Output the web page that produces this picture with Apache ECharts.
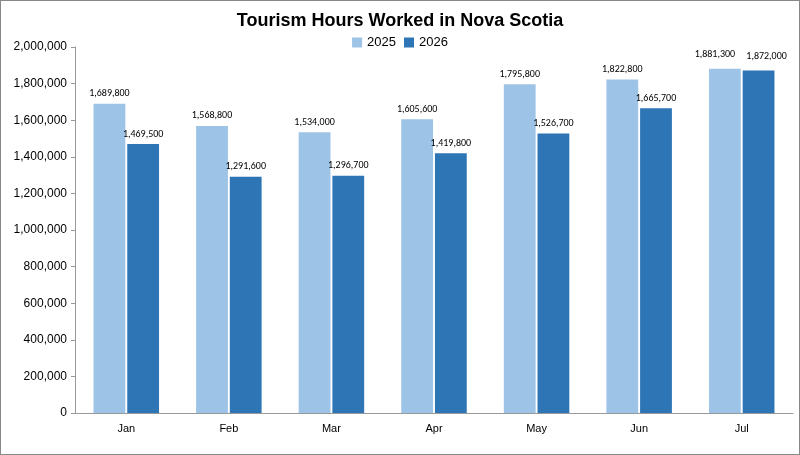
<!DOCTYPE html>
<html><head><meta charset="utf-8">
<script src="https://cdn.jsdelivr.net/npm/echarts@6/dist/echarts.min.js"></script>
<style>html,body{margin:0;padding:0}#c{width:798px;height:453px;border:1px solid #888}</style>
</head><body><div id="c"></div>
<script>
const categories = ["Jan","Feb","Mar","Apr","May","Jun","Jul"];
const s2025 = [1689800,1568800,1534000,1605600,1795800,1822800,1881300];
const s2026 = [1469500,1291600,1296700,1419800,1526700,1665700,1872000];
const chart = echarts.init(document.getElementById('c'));
const fmt = v => v.toLocaleString('en-US');
const lbl = {show:true,position:'top',fontSize:10,color:'#000',fontFamily:'Calibri, Carlito, Liberation Sans, sans-serif',formatter:p=>fmt(p.value)};
chart.setOption({
  animation:false,
  title:{text:'Tourism Hours Worked in Nova Scotia',left:'center',top:6,textStyle:{fontSize:18,fontWeight:'bold',color:'#000',fontFamily:'Liberation Sans, sans-serif'}},
  legend:{top:30,left:'center',itemWidth:10,itemHeight:10,itemGap:8,icon:'rect',textStyle:{fontSize:13,color:'#000'},data:['2025','2026']},
  grid:{left:74,right:6,top:46,bottom:41},
  xAxis:{type:'category',data:categories,axisTick:{show:false},axisLine:{lineStyle:{color:'#999'}},axisLabel:{color:'#000',fontSize:11,margin:10}},
  yAxis:{type:'value',min:0,max:2000000,interval:200000,splitLine:{show:false},axisLine:{show:true,lineStyle:{color:'#999'}},axisTick:{show:true,length:4,lineStyle:{color:'#999'}},axisLabel:{color:'#000',fontSize:12,formatter:v=>fmt(v)}},
  series:[
    {name:'2025',type:'bar',barWidth:'31%',barGap:'6%',itemStyle:{color:'#9DC3E6'},label:lbl,
     data:s2025.map((v,i)=>i===6?{value:v,label:{offset:[-10,-4]}}:v)},
    {name:'2026',type:'bar',barWidth:'31%',itemStyle:{color:'#2E75B6'},label:lbl,
     data:s2026.map((v,i)=>i===6?{value:v,label:{offset:[8,-4]}}:v)}
  ]
});
</script></body></html>
